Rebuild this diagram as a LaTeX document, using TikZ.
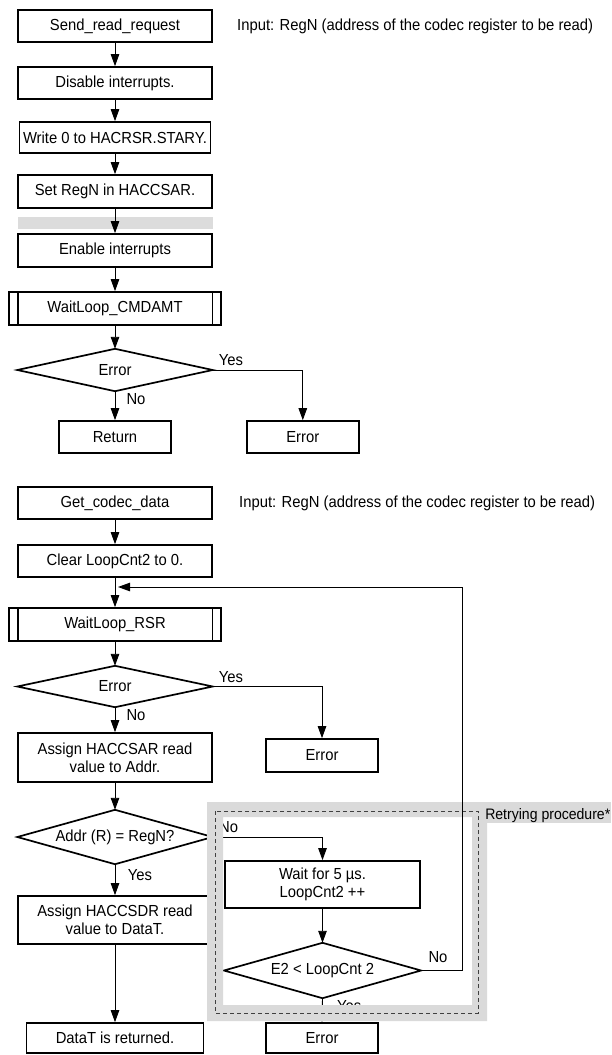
\documentclass[tikz,border=0pt]{standalone}
\usepackage{fontspec}
\setmainfont[FakeStretch=0.925]{Liberation Sans}
\usetikzlibrary{arrows.meta}
\definecolor{framegray}{RGB}{218,218,218}
\definecolor{bargray}{RGB}{220,220,220}
\begin{document}
\begin{tikzpicture}[x=1pt,y=-1pt,
  every node/.style={font=\fontsize{16}{18}\selectfont},
  box/.style={draw, line width=1.7pt, rectangle, inner sep=0pt, align=center},
  dnode/.style={rectangle, inner sep=0pt, align=center},
  dshape/.style={line width=1.7pt, line join=miter},
  conn/.style={line width=0.9pt},
  arr/.style={conn, -{Triangle[length=12pt,width=8.5pt]}},
  lbl/.style={inner sep=0pt},
  retrydash/.style={line width=0.9pt, dash pattern=on 4pt off 3pt, draw=black!75},
]
\useasboundingbox (0,0) rectangle (611,1055);

% ---------- first flow ----------
\fill[bargray] (18.3,217) rectangle (213,229);

\node[box, minimum width=193.4pt, minimum height=32pt] (send) at (115,26) {Send\_read\_request};
\node[lbl, anchor=west] (in1) at (237,26) {Input: RegN (address of the codec register to be read)};
\node[box, minimum width=193.4pt, minimum height=32pt] (disable) at (115,83) {Disable interrupts.};
\node[box, minimum width=191pt, minimum height=31pt] (write) at (115,137.5) {Write 0 to HACRSR.STARY.};
\node[box, minimum width=193.4pt, minimum height=33pt] (setregn) at (115,191.5) {Set RegN in HACCSAR.};
\node[box, minimum width=193.4pt, minimum height=33pt] (enable) at (115,250.5) {Enable interrupts};
\node[box, minimum width=212.4pt, minimum height=33pt] (waitcmd) at (115,308.5) {WaitLoop\_CMDAMT};
\draw[line width=1.7pt] ([xshift=9.7pt]waitcmd.north west) -- ([xshift=9.7pt]waitcmd.south west);
\draw[line width=1.7pt] ([xshift=-9.7pt]waitcmd.north east) -- ([xshift=-9.7pt]waitcmd.south east);
\node[dnode, minimum width=195pt, minimum height=42pt] (d1) at (115,370) {Error};
\draw[dshape] (d1.north) -- (d1.east) -- (d1.south) -- (d1.west) -- cycle;
\node[box, minimum width=112pt, minimum height=32pt] (ret) at (115,437) {Return};
\node[box, minimum width=112.3pt, minimum height=32pt] (err1) at (302.8,437) {Error};
\node[lbl] (yes1) at (231,360) {Yes};
\node[lbl] (no1) at (136,399) {No};

\draw[arr] (send.south) -- (disable.north);
\draw[arr] (disable.south) -- (write.north);
\draw[arr] (write.south) -- (setregn.north);
\draw[arr] (setregn.south) -- (enable.north);
\draw[arr] (enable.south) -- (waitcmd.north);
\draw[arr] (waitcmd.south) -- (d1.north);
\draw[arr] (d1.south) -- (ret.north);
\draw[arr] (d1.east) -| (err1.north);

% ---------- second flow ----------
\node[box, minimum width=194pt, minimum height=32pt] (get) at (115,503) {Get\_codec\_data};
\node[lbl, anchor=west] (in2) at (239,503) {Input: RegN (address of the codec register to be read)};
\node[box, minimum width=194.5pt, minimum height=32pt] (clear) at (115,561) {Clear LoopCnt2 to 0.};
\node[box, minimum width=212.4pt, minimum height=33pt] (waitrsr) at (115,624.5) {WaitLoop\_RSR};
\draw[line width=1.7pt] ([xshift=9.7pt]waitrsr.north west) -- ([xshift=9.7pt]waitrsr.south west);
\draw[line width=1.7pt] ([xshift=-9.7pt]waitrsr.north east) -- ([xshift=-9.7pt]waitrsr.south east);
\node[dnode, minimum width=195pt, minimum height=41pt] (d2) at (115,686.5) {Error};
\draw[dshape] (d2.north) -- (d2.east) -- (d2.south) -- (d2.west) -- cycle;
\node[box, minimum width=112pt, minimum height=33pt] (err2) at (322,755.5) {Error};
\node[lbl] (yes2) at (231,677) {Yes};
\node[lbl] (no2) at (136,715) {No};
\node[box, minimum width=194pt, minimum height=49pt] (assign1) at (115,757.5) {Assign HACCSAR read\\value to Addr.};
\node[dnode, minimum width=195pt, minimum height=54pt] (addr) at (115,837) {Addr (R) = RegN?};
\draw[dshape] (addr.north) -- (addr.east) -- (addr.south) -- (addr.west) -- cycle;
\node[lbl] (yes3) at (140,875) {Yes};
\node[lbl, anchor=west] (no3) at (219,827) {No};
\node[box, minimum width=194pt, minimum height=48pt] (assign2) at (115,920) {Assign HACCSDR read\\value to DataT.};
\node[box, minimum width=177pt, minimum height=30pt] (datat) at (115,1038) {DataT is returned.};
\node[box, minimum width=112pt, minimum height=30pt] (err3) at (322,1038) {Error};
\node[box, minimum width=194.7pt, minimum height=47pt] (wait5) at (322.5,884.5) {Wait for 5 \textmu s.\\LoopCnt2 ++};
\node[dnode, minimum width=196.7pt, minimum height=55pt] (e2) at (322.5,970.5) {E2 < LoopCnt 2};
\draw[dshape] (e2.north) -- (e2.east) -- (e2.south) -- (e2.west) -- cycle;
\node[lbl] (no4) at (438,957) {No};
\node[lbl, anchor=base west] (yes4) at (337,1011) {Yes};

\draw[arr] (get.south) -- (clear.north);
\draw[arr] (clear.south) -- (waitrsr.north);
\draw[arr] (waitrsr.south) -- (d2.north);
\draw[arr] (d2.south) -- (assign1.north);
\draw[arr] (d2.east) -| (err2.north);
\draw[arr] (assign1.south) -- (addr.north);
\draw[arr] (addr.south) -- (assign2.north);
\draw[arr] (addr.east) -| (wait5.north);
\draw[arr] (wait5.south) -- (e2.north);
\draw[arr] (e2.south) -- (err3.north);
\draw[arr] (assign2.south) -- (datat.north);

% ---------- retrying frame ----------
\fill[framegray, even odd rule] (207,802) rectangle (487,1021) (223,817) rectangle (472,1005);
\fill[framegray] (487,802) rectangle (611,823);
\draw[retrydash] (215,811) rectangle (478,1013);
\node[lbl, anchor=east, font=\fontsize{15.2}{17}\selectfont] (retry) at (610.5,816) {Retrying procedure*};

% feedback loop
\coordinate (fbc) at (462,587);
\coordinate (fbtip) at (118,587);
\draw[arr] (e2.east) -- (e2.east -| fbc) -- (fbc) -- (fbtip);
\end{tikzpicture}
\end{document}
